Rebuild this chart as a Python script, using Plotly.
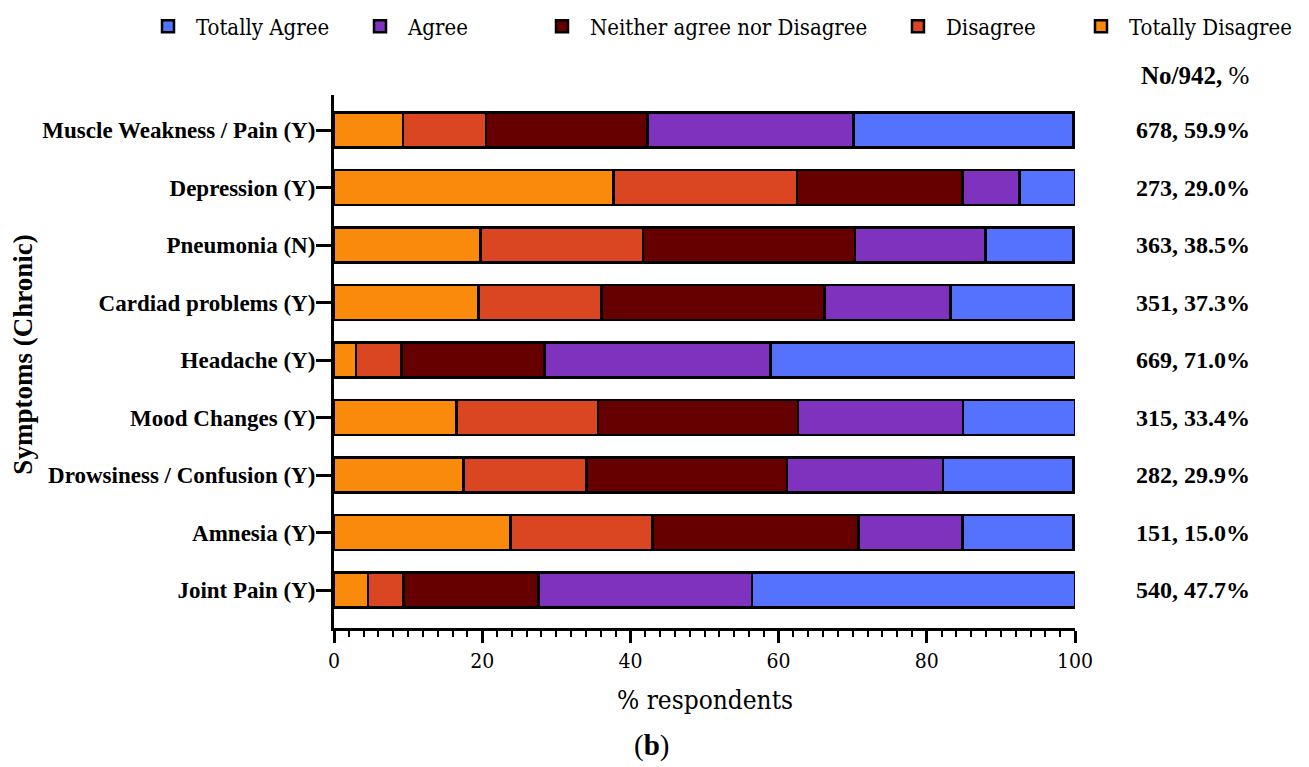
import plotly.graph_objects as go

categories = ["Muscle Weakness / Pain (Y)", "Depression (Y)", "Pneumonia (N)",
              "Cardiad problems (Y)", "Headache (Y)", "Mood Changes (Y)",
              "Drowsiness / Confusion (Y)", "Amnesia (Y)", "Joint Pain (Y)"]

totally_disagree = [9.3, 37.7, 19.8, 19.5, 3.0, 16.5, 17.5, 23.8, 4.6]
disagree = [11.2, 24.8, 21.9, 16.6, 6.1, 19.1, 16.6, 19.2, 4.8]
neither = [21.8, 22.3, 28.6, 30.1, 19.3, 27.0, 27.0, 27.8, 18.2]
agree = [27.8, 7.7, 17.6, 17.0, 30.5, 22.3, 21.1, 14.0, 28.8]
totally_agree = [29.7, 7.5, 11.9, 16.6, 41.1, 15.1, 17.6, 15.0, 43.6]

counts = [678, 273, 363, 351, 669, 315, 282, 151, 540]
count_pct = [59.9, 29.0, 38.5, 37.3, 71.0, 33.4, 29.9, 15.0, 47.7]

# (name, values, colour, legend id, legend x position in paper units)
series = [
    ("Totally Disagree", totally_disagree, "#F98A0B", "legend5", 0.9973),
    ("Disagree", disagree, "#DA4621", "legend4", 0.7503),
    ("Neither agree nor Disagree", neither, "#660000", "legend3", 0.2699),
    ("Agree", agree, "#7E32BE", "legend2", 0.0243),
    ("Totally Agree", totally_agree, "#5572FE", "legend", -0.2618),
]

SERIF = "Liberation Serif"
SERIF_REG = "DejaVu Serif Condensed"

fig = go.Figure()
legend_layouts = {}
for name, vals, col, leg, lx in series:
    fig.add_trace(go.Bar(
        y=categories, x=vals, name=name, orientation="h", legend=leg,
        marker=dict(color=col, line=dict(color="black", width=2.5)),
        width=0.61,
    ))
    legend_layouts[leg] = dict(orientation="h", x=lx, y=1.168,
                               xanchor="left", yanchor="top", itemwidth=46,
                               bgcolor="rgba(0,0,0,0)",
                               font=dict(family=SERIF_REG, size=22, color="black"))

annotations = []
annotations.append(dict(text="<b>No/942, </b>%", xref="paper", yref="paper",
                        x=1.162, y=1.0375, showarrow=False, xanchor="center", yanchor="middle",
                        font=dict(family=SERIF, size=25, color="black")))
for cat, c, p in zip(categories, counts, count_pct):
    annotations.append(dict(text=f"<b>{c}, {p:.1f}%</b>", xref="paper", yref="y",
                            x=1.1595, y=cat, showarrow=False, xanchor="center", yanchor="middle",
                            font=dict(family=SERIF, size=24, color="black")))
annotations.append(dict(text="% respondents", xref="paper", yref="paper",
                        x=0.5, y=-0.135, showarrow=False, xanchor="center", yanchor="middle",
                        font=dict(family=SERIF_REG, size=26, color="black")))
annotations.append(dict(text="(<b>b</b>)", xref="paper", yref="paper",
                        x=0.429, y=-0.22, showarrow=False, xanchor="center", yanchor="middle",
                        font=dict(family=SERIF, size=29, color="black")))
annotations.append(dict(text="<b>Symptoms (Chronic)</b>", xref="paper", yref="paper",
                        x=-0.419, y=0.512, showarrow=False, textangle=-90,
                        xanchor="center", yanchor="middle",
                        font=dict(family=SERIF, size=27, color="black")))

fig.update_layout(
    width=1309, height=767,
    margin=dict(l=326, r=242, t=87, b=147, autoexpand=False),
    barmode="stack",
    plot_bgcolor="white", paper_bgcolor="white",
    font=dict(family=SERIF, color="black"),
    showlegend=True,
    annotations=annotations,
    xaxis=dict(range=[0, 100], dtick=20, showgrid=False, zeroline=False,
               showline=True, linecolor="black", linewidth=3,
               ticks="outside", ticklen=12, tickwidth=3, tickcolor="black",
               tickfont=dict(family=SERIF_REG, size=21, color="black"),
               minor=dict(dtick=2, ticks="outside", ticklen=6, tickwidth=2, tickcolor="black")),
    yaxis=dict(categoryorder="array", categoryarray=categories[::-1],
               range=[-0.66, 8.61], showgrid=False, zeroline=False,
               showline=True, linecolor="black", linewidth=3,
               ticks="outside", ticklen=15, tickwidth=3, tickcolor="black",
               ticklabelstandoff=-4,
               tickfont=dict(family=SERIF, size=23, color="black"),
               tickprefix="<b>", ticksuffix="</b>"),
    **legend_layouts,
)

fig.write_html("out.html")
